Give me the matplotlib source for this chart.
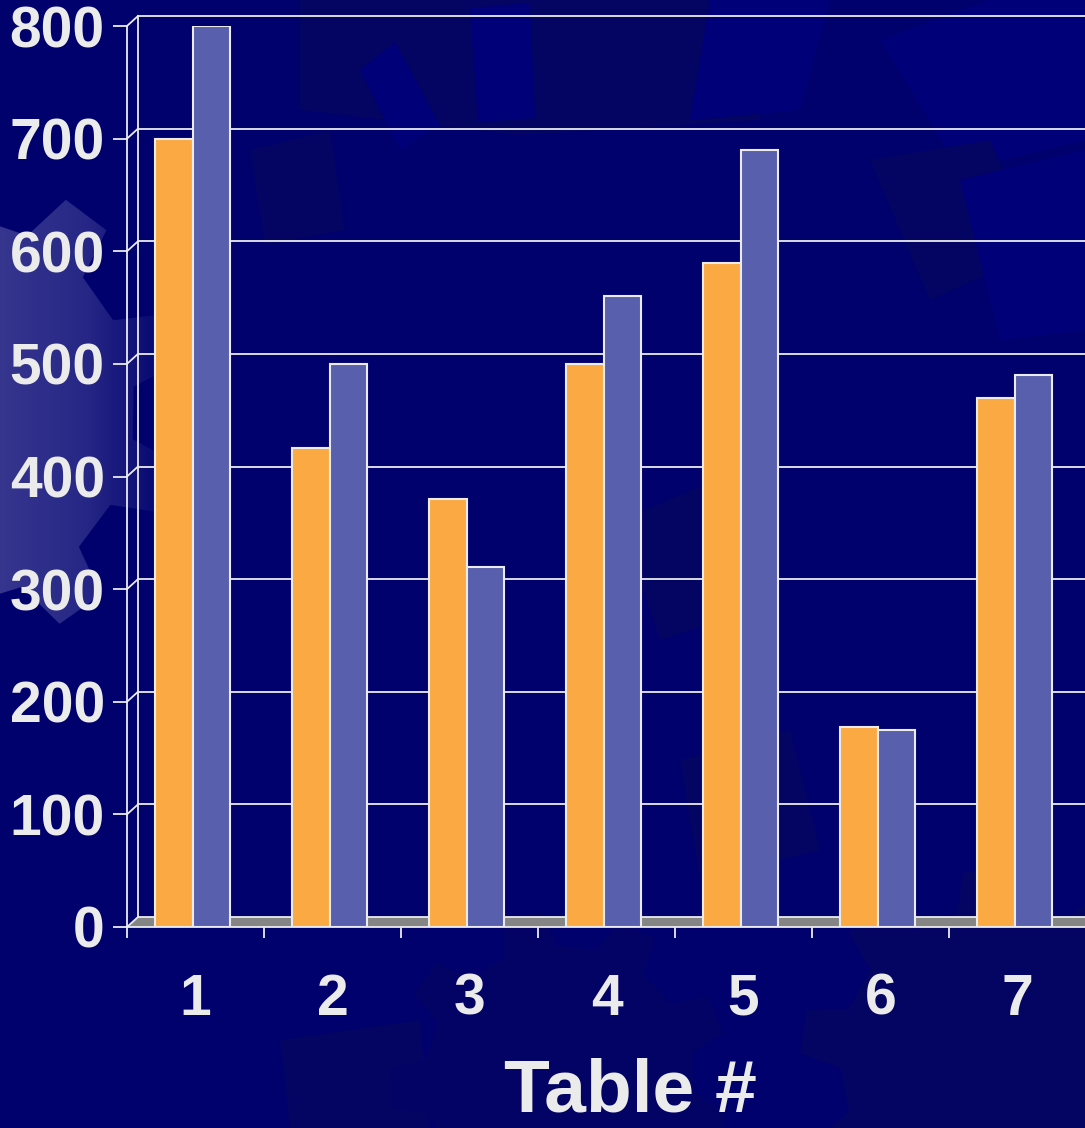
import numpy as np
import matplotlib.pyplot as plt
from matplotlib import transforms
from matplotlib.patches import Polygon
from matplotlib.colors import LinearSegmentedColormap

# dados do gráfico
mesas = ['1', '2', '3', '4', '5', '6', '7']
serie_laranja = [700, 425, 380, 500, 590, 178, 470]
serie_azul = [800, 500, 320, 560, 690, 175, 490]
valores_y = [0, 100, 200, 300, 400, 500, 600, 700, 800]

fundo = '#01016E'
branco = '#EBEBEB'
plt.rcParams['font.family'] = ['Liberation Sans', 'DejaVu Sans']

fig = plt.figure(figsize=(10.85, 11.28), dpi=100, facecolor=fundo)

# fundo decorativo (engrenagens e quadrados em tons de azul), em pixels
bg = fig.add_axes([0, 0, 1, 1], zorder=-5)
bg.set_xlim(0, 1085)
bg.set_ylim(1128, 0)
bg.axis('off')
bg.set_facecolor(fundo)


def engrenagem(cx, cy, r_ext, r_int, dentes, giro=0.0):
    pts = []
    passo = 2 * np.pi / dentes
    for i in range(dentes):
        a = giro + i * passo
        for frac, r in [(0.0, r_int), (0.12, r_ext), (0.45, r_ext), (0.57, r_int)]:
            ang = a + frac * passo
            pts.append((cx + r * np.cos(ang), cy + r * np.sin(ang)))
    return pts


escuro = '#040462'
claro = '#000078'
formas = [
    ([(300, 0), (760, 0), (760, 120), (520, 135), (300, 110)], escuro),
    ([(470, 8), (530, 3), (535, 118), (478, 122)], claro),
    ([(360, 70), (395, 42), (440, 125), (400, 150)], claro),
    ([(710, 0), (830, 0), (800, 110), (690, 120)], claro),
    ([(880, 40), (990, 0), (1085, 0), (1085, 140), (960, 170)], claro),
    ([(870, 160), (990, 140), (1040, 250), (930, 300)], escuro),
    ([(960, 180), (1085, 150), (1085, 330), (1000, 340)], claro),
    ([(620, 520), (740, 470), (780, 600), (660, 640)], escuro),
    ([(250, 150), (330, 130), (345, 230), (265, 245)], escuro),
    ([(280, 1040), (420, 1020), (430, 1128), (290, 1128)], escuro),
    ([(680, 760), (790, 730), (820, 850), (700, 880)], escuro),
]
for pts, cor in formas:
    bg.add_patch(Polygon(pts, closed=True, facecolor=cor, edgecolor='none'))

# engrenagens escuras na parte de baixo
bg.add_patch(Polygon(engrenagem(990, 1060, 190, 150, 9, 0.3), closed=True,
                     facecolor=escuro, edgecolor='none'))
bg.add_patch(Polygon(engrenagem(560, 1080, 170, 135, 9, 0.1), closed=True,
                     facecolor='#030366', edgecolor='none'))

# engrenagem clara à esquerda com degradê
eng = Polygon(engrenagem(-60, 410, 245, 195, 10, 0.15), closed=True,
              facecolor='none', edgecolor='none')
bg.add_patch(eng)
degrade = LinearSegmentedColormap.from_list('deg', ['#36368F', '#262686', fundo])
img = bg.imshow(np.linspace(0, 1, 256)[None, :], cmap=degrade, aspect='auto',
                extent=[0, 175, 700, 120], zorder=1)
img.set_clip_path(eng)
bg.set_xlim(0, 1085)
bg.set_ylim(1128, 0)

# eixos principais
ax = fig.add_axes([127 / 1085, 201 / 1128, 959 / 1085, 901 / 1128])
ax.patch.set_alpha(0)
ax.set_xlim(0.5, 7.5)
ax.set_ylim(0, 800)

# parede do fundo deslocada (efeito 3D)
tras = transforms.offset_copy(ax.transData, fig=fig, x=11, y=10, units='dots')


def recuo(x, y):
    return ax.transData.inverted().transform(ax.transData.transform((x, y)) + [11, 10])


piso_a = recuo(0.5, 0)
piso_b = recuo(7.5, 0)
ax.add_patch(Polygon([(0.5, 0), (7.6, 0), (piso_b[0] + 0.1, piso_b[1]), tuple(piso_a)],
                     closed=True, facecolor='#858585', edgecolor='none',
                     clip_on=False, zorder=1))

for v in valores_y:
    ax.plot([0.5, 7.6], [v, v], transform=tras, color=branco, lw=1.3,
            clip_on=False, zorder=1.5)
    b = recuo(0.5, v)
    ax.plot([0.5, b[0]], [v, b[1]], color=branco, lw=1.3, clip_on=False, zorder=1.5)
ax.plot([0.5, 0.5], [0, 800], transform=tras, color=branco, lw=1.3,
        clip_on=False, zorder=1.5)

# barras
x = np.arange(1, len(mesas) + 1)
largura = 0.275
ax.bar(x - largura / 2 - 0.02, serie_laranja, largura, color='#FBAA43',
       edgecolor=branco, linewidth=1.5, zorder=3)
ax.bar(x + largura / 2 - 0.02, serie_azul, largura, color='#5860AD',
       edgecolor=branco, linewidth=1.5, zorder=3)

# eixos e rótulos
for lado in ['top', 'right']:
    ax.spines[lado].set_visible(False)
for lado in ['left', 'bottom']:
    ax.spines[lado].set_color(branco)
    ax.spines[lado].set_linewidth(1.3)
    ax.spines[lado].set_zorder(4)

ax.set_yticks(valores_y)
ax.tick_params(axis='y', length=10, width=1.3, color=branco, labelcolor=branco,
               labelsize=41, pad=6)
for t in ax.get_yticklabels():
    t.set_fontweight('bold')

ax.set_xticks(np.arange(0.5, 8, 1))
ax.set_xticklabels([])
ax.tick_params(axis='x', which='major', length=8, width=1.3, color=branco, direction='out')
ax.set_xticks(x, minor=True)
ax.set_xticklabels(mesas, minor=True, fontsize=41, fontweight='bold', color=branco)
ax.tick_params(axis='x', which='minor', length=0, pad=33)

fig.text(630 / 1085, 1 / 1128, 'Table #', ha='center', va='bottom',
         fontsize=54, fontweight='bold', color=branco)

fig.savefig('out.png', dpi=100, facecolor=fundo)
